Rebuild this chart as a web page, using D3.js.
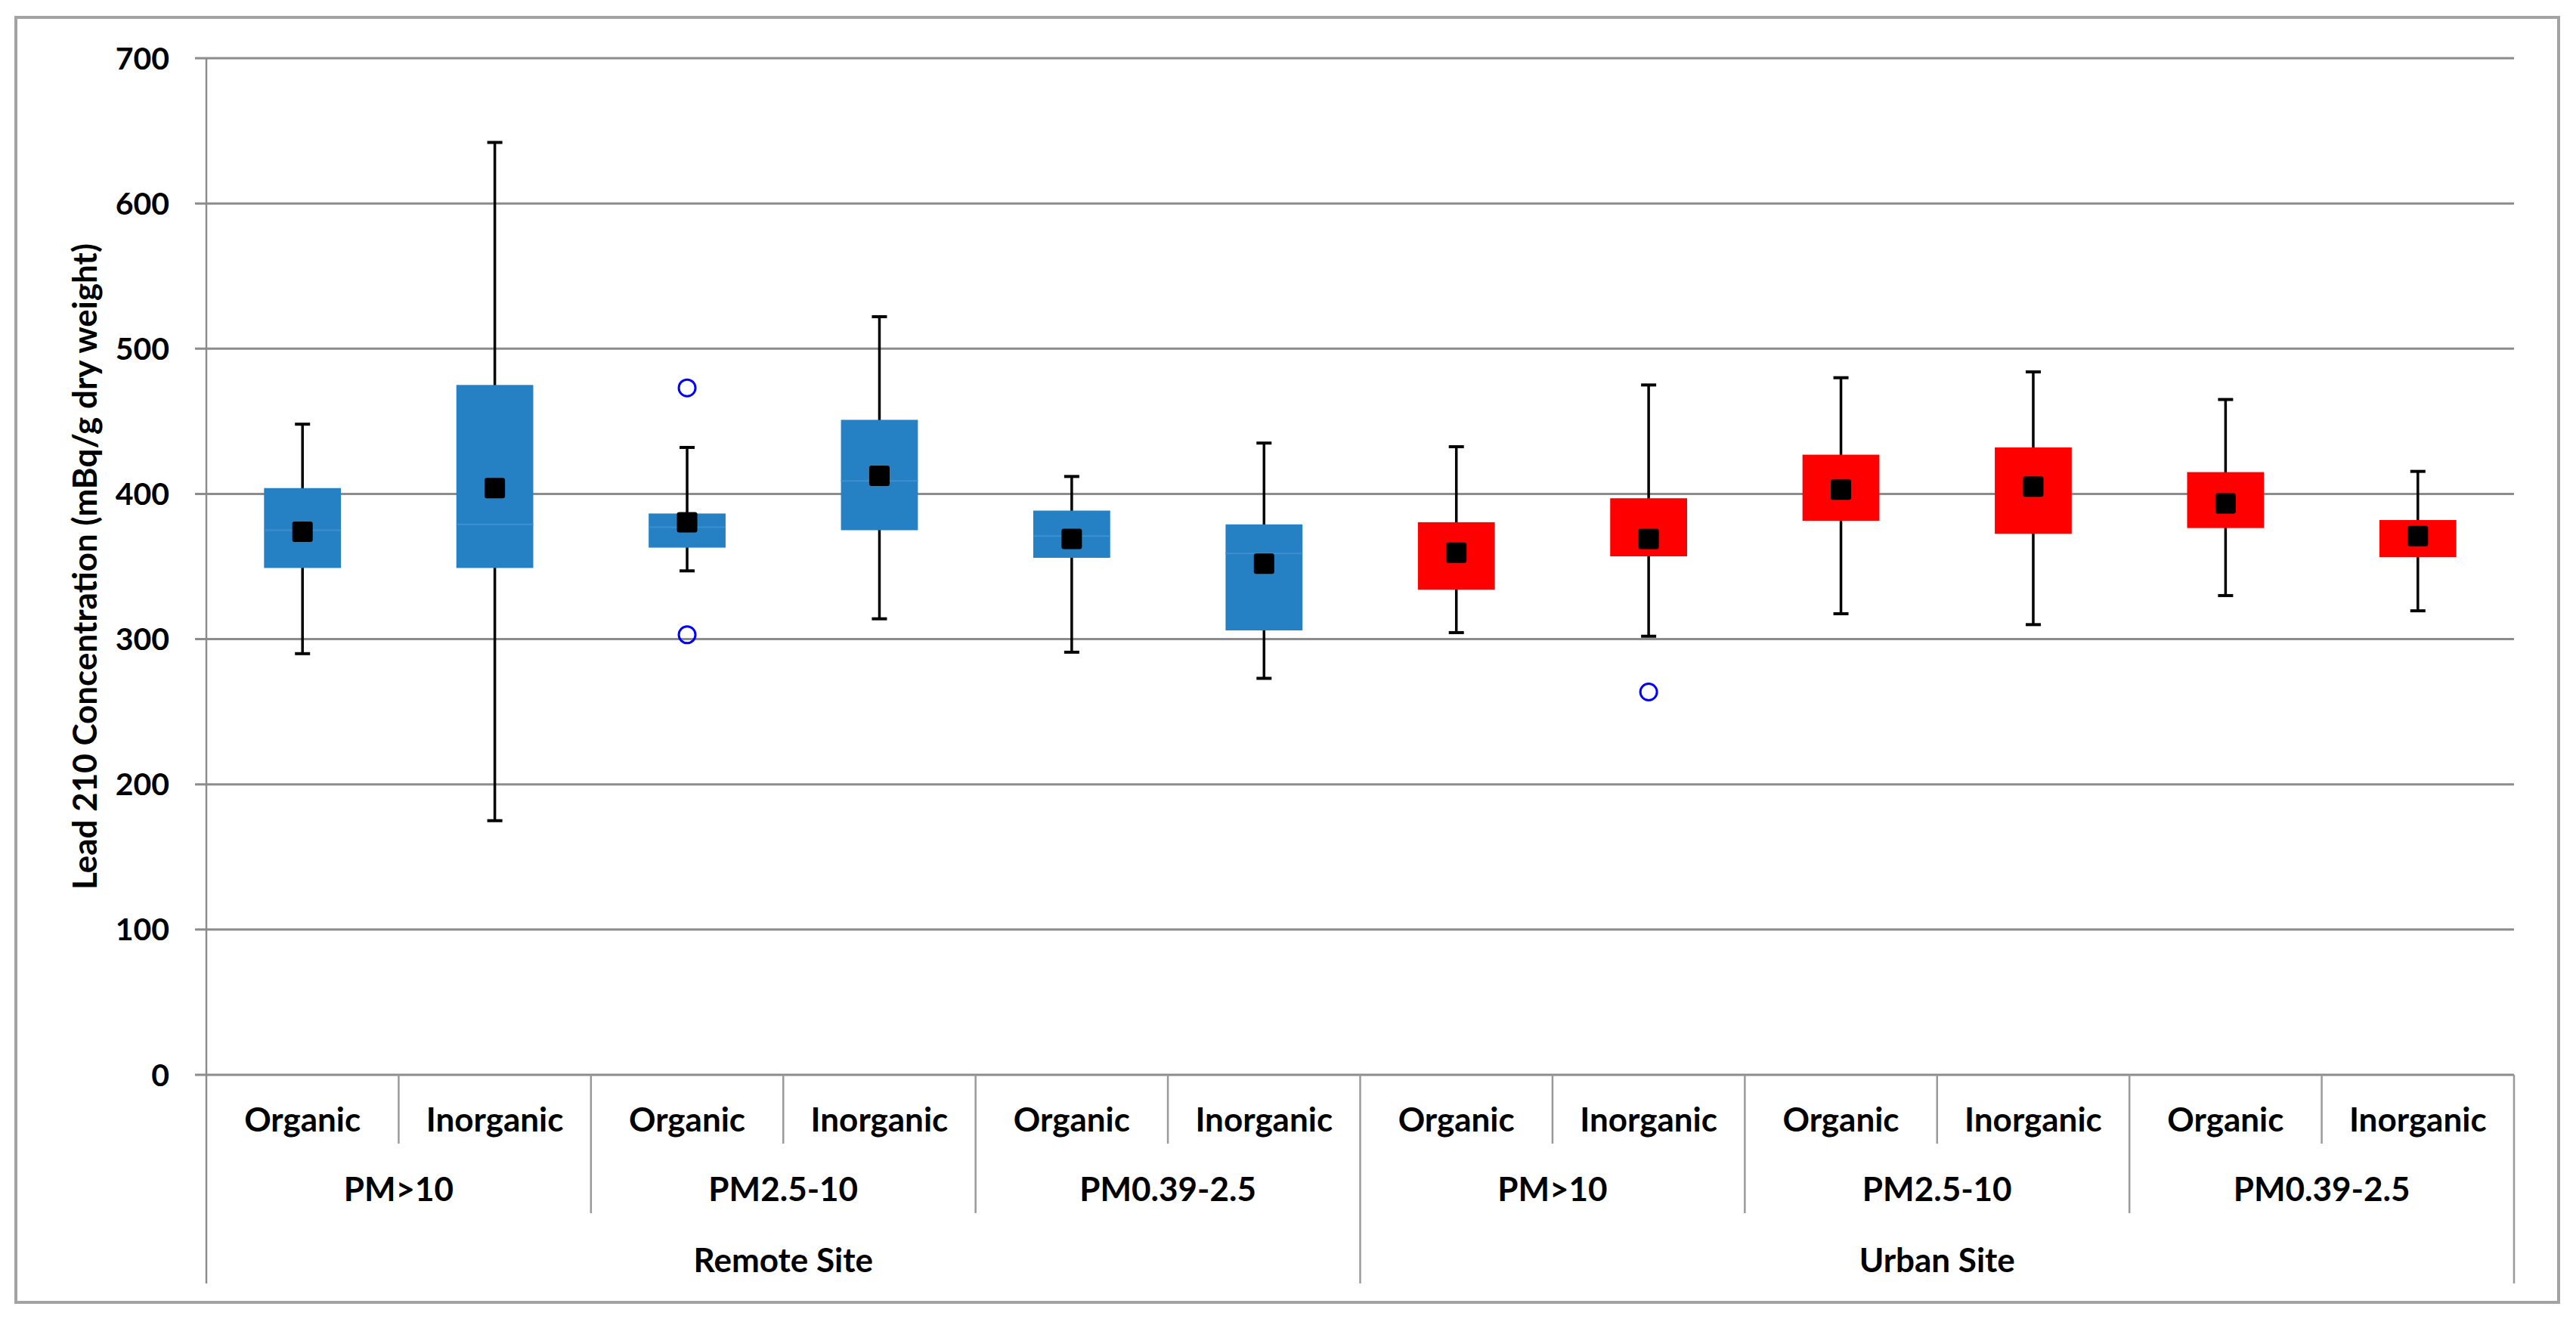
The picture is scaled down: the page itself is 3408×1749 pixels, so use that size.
<!DOCTYPE html>
<html>
<head>
<meta charset="utf-8">
<script src="https://cdn.jsdelivr.net/npm/d3@7"></script>
<style>
  html, body { margin: 0; padding: 0; background: #ffffff; }
  svg { display: block; }
  text { font-family: Lato, "Open Sans", sans-serif; font-weight: 700; fill: #000; }
</style>
</head>
<body>
<svg id="chart" width="3408" height="1749"></svg>
<script>
// ---- data ----
const categories = ["Organic","Inorganic","Organic","Inorganic","Organic","Inorganic",
                    "Organic","Inorganic","Organic","Inorganic","Organic","Inorganic"];
const sizeGroups = ["PM>10","PM2.5-10","PM0.39-2.5","PM>10","PM2.5-10","PM0.39-2.5"];
const sites = ["Remote Site","Urban Site"];
const siteOfBox = [0,0,0,0,0,0,1,1,1,1,1,1];
const q1     = [349, 349, 363, 375, 356, 306, 334, 357, 381.5, 372.5, 376.5, 356.5];
const q3     = [404, 475, 386.5, 451, 388.5, 379, 380.5, 397, 427, 432, 415, 382];
const median = [375, 379, 377, 409, 371, 359, null, null, null, null, null, null];
const means  = [374, 404, 380.5, 412.5, 369, 352, 359.5, 369, 403, 405, 393.5, 371];
const whiskerLow  = [290, 175, 347, 314, 291, 273, 304.5, 302, 317.5, 310, 330, 319.5];
const whiskerHigh = [448, 642, 432, 522, 412, 435, 432.5, 475, 480, 484, 465, 415.5];
const outliers = [ {box: 2, value: 473}, {box: 2, value: 303}, {box: 7, value: 263.6} ];
const yTicks = [0, 100, 200, 300, 400, 500, 600, 700];
const yTitle = "Lead 210 Concentration (mBq/g dry weight)";
const siteColors = ["#2581C4", "#FF0000"];

(function draw() {
  const svg = d3.select("#chart");
  const pLeft = 273, pRight = 3326, pTop = 77, pBottom = 1422;
  const x = d3.scaleBand().domain(d3.range(categories.length)).range([pLeft, pRight]).padding(0);
  const y = d3.scaleLinear().domain([0, 700]).range([pBottom, pTop]);
  const bw = x.bandwidth();
  const boxW = bw * 0.4;
  const gridColor = "#8c8c8c";

  svg.append("rect").attr("width", 3408).attr("height", 1749).attr("fill", "#fff");
  // outer chart border
  svg.append("rect").attr("x", 21).attr("y", 23).attr("width", 3364).attr("height", 1700)
    .attr("fill", "none").attr("stroke", "#a3a3a3").attr("stroke-width", 4);

  // gridlines + tick marks
  svg.append("g").selectAll("line").data(yTicks).join("line")
    .attr("x1", pLeft - 15).attr("x2", pRight)
    .attr("y1", d => y(d)).attr("y2", d => y(d))
    .attr("stroke", gridColor).attr("stroke-width", 3);

  // y tick labels
  svg.append("g").selectAll("text").data(yTicks).join("text")
    .attr("x", 224).attr("y", d => y(d) + 14.5)
    .attr("text-anchor", "end").attr("font-size", 41)
    .text(d => d);

  // y axis line
  svg.append("line").attr("x1", pLeft).attr("x2", pLeft).attr("y1", pTop).attr("y2", 1698)
    .attr("stroke", gridColor).attr("stroke-width", 2.5);

  // category separators (multi-level)
  const bounds = d3.range(1, categories.length + 1);
  svg.append("g").selectAll("line").data(bounds).join("line")
    .attr("x1", d => d < categories.length ? x(d) : pRight)
    .attr("x2", d => d < categories.length ? x(d) : pRight)
    .attr("y1", pBottom)
    .attr("y2", d => d % 6 === 0 ? 1698 : (d % 2 === 0 ? 1605 : 1513))
    .attr("stroke", "#9a9a9a").attr("stroke-width", 2.5);

  // level 1 labels
  svg.append("g").selectAll("text").data(categories).join("text")
    .attr("x", (d, i) => x(i) + bw / 2).attr("y", 1497)
    .attr("text-anchor", "middle").attr("font-size", 44)
    .text(d => d);
  // level 2 labels
  svg.append("g").selectAll("text").data(sizeGroups).join("text")
    .attr("x", (d, i) => x(i * 2) + bw).attr("y", 1589)
    .attr("text-anchor", "middle").attr("font-size", 44)
    .text(d => d);
  // level 3 labels
  svg.append("g").selectAll("text").data(sites).join("text")
    .attr("x", (d, i) => x(i * 6) + bw * 3).attr("y", 1683)
    .attr("text-anchor", "middle").attr("font-size", 44)
    .text(d => d);

  // y axis title
  svg.append("text")
    .attr("transform", `translate(128, ${(pTop + pBottom) / 2}) rotate(-90)`)
    .attr("text-anchor", "middle").attr("font-size", 44)
    .text(yTitle);

  // ---- boxes ----
  const idx = d3.range(categories.length);
  const cx = i => x(i) + bw / 2;
  const g = svg.append("g");

  // whisker stems
  g.selectAll("line.stem").data(idx).join("line").attr("class", "stem")
    .attr("x1", cx).attr("x2", cx)
    .attr("y1", i => y(whiskerLow[i])).attr("y2", i => y(whiskerHigh[i]))
    .attr("stroke", "#000").attr("stroke-width", 3.5);
  // caps
  ["low", "high"].forEach(k => {
    const arr = k === "low" ? whiskerLow : whiskerHigh;
    g.selectAll("line.cap-" + k).data(idx).join("line").attr("class", "cap-" + k)
      .attr("x1", i => cx(i) - 10).attr("x2", i => cx(i) + 10)
      .attr("y1", i => y(arr[i])).attr("y2", i => y(arr[i]))
      .attr("stroke", "#000").attr("stroke-width", 4);
  });
  // boxes
  g.selectAll("rect.box").data(idx).join("rect").attr("class", "box")
    .attr("x", i => cx(i) - boxW / 2).attr("width", boxW)
    .attr("y", i => y(q3[i])).attr("height", i => y(q1[i]) - y(q3[i]))
    .attr("fill", i => siteColors[siteOfBox[i]]);
  // medians (faint)
  g.selectAll("line.med").data(idx.filter(i => median[i] != null)).join("line").attr("class", "med")
    .attr("x1", i => cx(i) - boxW / 2).attr("x2", i => cx(i) + boxW / 2)
    .attr("y1", i => y(median[i])).attr("y2", i => y(median[i]))
    .attr("stroke", "#3d90cd").attr("stroke-width", 2);
  // means
  g.selectAll("rect.mean").data(idx).join("rect").attr("class", "mean")
    .attr("x", i => cx(i) - 13.5).attr("y", i => y(means[i]) - 13.5)
    .attr("width", 27).attr("height", 27).attr("rx", 3)
    .attr("fill", "#000");
  // outliers
  g.selectAll("circle.out").data(outliers).join("circle").attr("class", "out")
    .attr("cx", d => cx(d.box)).attr("cy", d => y(d.value)).attr("r", 11)
    .attr("fill", "none").attr("stroke", "#0000FF").attr("stroke-width", 3);
})();
</script>
</body>
</html>
